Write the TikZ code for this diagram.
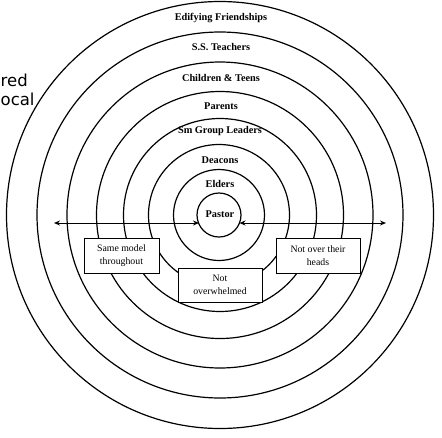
\documentclass[tikz,border=0pt]{standalone}
\usepackage{fontspec}
\setmainfont{Liberation Serif}
\newfontfamily\sidefont{DejaVu Sans}
\usetikzlibrary{arrows.meta}
\begin{document}
\begin{tikzpicture}[x=1pt,y=-1pt,
  ring/.style={draw=black,line width=1.2pt,circle,inner sep=0pt,minimum size=#1},
  lbl/.style={font=\fontsize{10.3}{11}\selectfont\bfseries,inner sep=0pt},
  notebox/.style={draw=black,line width=0.8pt,fill=white,inner sep=0pt,align=center,
    font=\fontsize{9.8}{12.5}\selectfont},
  dbl/.style={line width=1pt,{Stealth[length=6pt,width=5pt]}-{Stealth[length=6pt,width=5pt]}},
  side/.style={font=\sidefont\fontsize{16.5}{19}\selectfont,inner sep=0pt,anchor=base west}
]
\useasboundingbox (0,0) rectangle (442,437);
% rings
\node[ring=427pt] (c8) at (220,215) {};
\node[ring=366pt] (c7) at (220,215) {};
\node[ring=306pt] (c6) at (220,215) {};
\node[ring=247pt] (c5) at (220,215) {};
\node[ring=193pt] (c4) at (220,215) {};
\node[ring=141pt] (c3) at (219,215) {};
\node[ring=91pt]  (c2) at (219,215) {};
\node[ring=44pt]  (c1) at (219,215) {};
% labels
\node[lbl] (t8) at (221,18) {Edifying Friendships};
\node[lbl] (t7) at (221,47) {S.S. Teachers};
\node[lbl] (t6) at (221,78) {Children \& Teens};
\node[lbl] (t5) at (221,106) {Parents};
\node[lbl] (t4) at (220,131) {Sm Group Leaders};
\node[lbl] (t3) at (220,160) {Deacons};
\node[lbl] (t2) at (220,184) {Elders};
\node[lbl] (t1) at (220,214) {Pastor};
% arrows
\coordinate (L) at (54,223);
\coordinate (PL) at (199,223);
\coordinate (PR) at (239.5,223);
\coordinate (R) at (386,223);
\draw[dbl] (L) -- (PL);
\draw[dbl] (PR) -- (R);
% boxes
\node[notebox,minimum width=75pt,minimum height=35pt] (b1) at (121.5,255.5) {Same model\\throughout};
\node[notebox,minimum width=84pt,minimum height=34pt] (b2) at (220,285) {Not\\overwhelmed};
\node[notebox,minimum width=84pt,minimum height=35pt] (b3) at (318,255.5) {Not over their\\heads};
% side text
\node[side] (s1) at (0.5,86.5) {red};
\node[side] (s2) at (0.5,105.5) {ocal};
\end{tikzpicture}
\end{document}
